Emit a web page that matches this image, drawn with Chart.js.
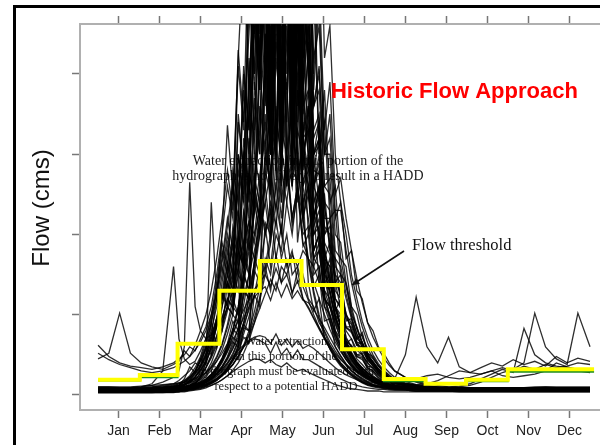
<!DOCTYPE html>
<html><head><meta charset="utf-8">
<script src="https://cdn.jsdelivr.net/npm/chart.js@4"></script>
<style>html,body{margin:0;padding:0;background:#fff;overflow:hidden}canvas{display:block}</style>
</head><body>
<canvas id="c" width="600" height="445"></canvas>
<script>
// ---- categories / ticks ----
const months = ['Jan','Feb','Mar','Apr','May','Jun','Jul','Aug','Sep','Oct','Nov','Dec'];
const monthTickDays = [15.2,45.6,76.0,106.5,136.9,167.3,197.7,228.1,258.5,288.9,319.4,349.8];
const yTickValues = [0,100,200,300,400];

// ---- flow threshold (yellow step line) and the green line under it ----
const monthStartDays = [0,31,59,90,120,151,181,212,243,273,304,334,368];
const thresholdByMonth = [19,25,64,130,167,137,57,20,14,19,32,32];
const greenByMonth = [18,22,64,130,167,137,57,17,14,17,29,29];

// ---- day-of-year grid for the yearly hydrographs ----
const dayGrid = [0,8,16,24,32,40,48,56,
 60,64,68,72,76,80,84,88, 92,96,100,104,108,112,116,120,
 124,128,132,136,140,144,148,152, 156,160,164,168,172,176,180,184,
 188,192,196,200,204,208,212,216, 220,228,236,244,252,260,268,276,
 284,292,300,308,316,324,332,340,348,356,365];

// ---- yearly hydrographs (flow) ----
const year01 = [6,5,5,5,6,6,7,8, 9,12,18,28,45,60,90,130, 180,150,260,220,380,300,560,420, 820,380,740,320,660,280,560,300, 330,220,260,150,170,105,120,70, 60,45,38,30,24,19,15,12, 11,9,8,7,7,6,6,6, 6,6,6,6,6,7,7,7,6,6,6];
const year02 = [5,5,4,4,5,5,6,7, 8,10,14,22,35,50,70,95, 140,190,150,260,300,250,480,380, 780,420,900,350,820,400,700,360, 380,260,290,170,190,110,95,60, 48,38,30,24,19,15,13,11, 10,8,7,6,6,6,5,5, 5,5,5,5,6,6,6,5,5,5,5];
const year03 = [7,7,6,6,6,7,8,9, 10,11,12,14,16,20,26,34, 46,64,92,80,190,150,370,300, 600,320,840,400,900,340,640,380, 460,300,340,200,220,140,150,92, 95,70,78,52,48,36,30,22, 16,12,9,8,8,7,7,7, 7,7,7,8,8,8,8,7,7,7,7];
const year04 = [4,4,4,4,4,4,5,5, 5,6,7,8,9,11,14,18, 24,32,45,62,88,80,170,150, 300,260,470,330,650,400,820,420, 620,380,490,300,350,230,230,180, 140,110,85,65,50,39,31,25, 19,14,11,9,8,7,7,6, 6,6,6,6,6,6,6,6,6,6,6];
const year05 = [6,6,6,5,5,6,6,7, 7,8,9,10,12,14,17,21, 26,33,42,55,72,65,125,110, 215,200,345,300,500,380,650,420, 680,400,520,330,390,250,270,220, 180,145,115,90,72,58,46,37, 30,22,17,14,12,10,9,8, 8,8,8,8,8,9,9,9,8,8,8];
const year06 = [8,8,7,7,7,8,9,10, 12,14,17,22,30,42,60,85, 125,180,150,340,280,380,520,400, 560,300,880,360,760,300,420,480, 300,280,180,165,110,98,76,58, 45,35,28,22,18,15,13,11, 10,9,8,8,7,7,7,7, 7,7,7,7,8,8,8,8,7,7,7];
const year07 = [3,3,3,3,3,3,4,4, 4,6,9,14,22,34,50,72, 95,120,110,230,180,420,330,540, 660,300,620,280,560,420,300,220, 165,125,95,73,57,45,36,30, 25,20,16,13,11,10,9,8, 7,6,5,5,5,5,4,4, 4,4,4,4,4,4,4,4,4,4,4];
const year08 = [9,9,8,8,8,9,10,11, 12,13,15,18,22,28,36,48, 64,88,120,100,225,180,390,300, 620,320,900,400,580,760,340,500, 420,300,320,235,190,150,120,95, 88,70,75,52,45,36,28,22, 15,12,10,9,9,8,8,8, 8,8,9,9,9,10,10,9,9,9,9];
const year09 = [5,5,5,5,5,5,6,6, 7,8,10,14,22,40,90,60, 110,150,190,160,280,220,490,400, 720,360,680,300,840,400,640,320, 380,260,280,180,140,108,84,65, 50,39,31,25,20,16,14,12, 10,8,7,7,6,6,6,6, 6,6,6,6,6,6,6,6,6,6,6];
const year10 = [7,7,6,6,6,6,7,8, 9,10,12,16,24,40,240,120, 90,110,150,130,290,240,510,380, 540,300,820,340,720,300,440,520, 400,260,300,185,142,110,86,67, 52,41,33,27,22,18,15,13, 11,9,8,7,7,7,6,6, 6,6,6,6,7,7,7,7,7,6,6];
const year11 = [10,10,9,9,10,12,16,22, 30,60,265,110,80,70,75,90, 120,160,130,300,250,520,400,560, 700,340,620,300,900,360,540,320, 330,220,250,160,125,97,76,60, 47,37,30,24,20,16,14,12, 11,9,8,8,7,7,7,7, 7,7,7,7,7,8,8,8,8,8,8];
const year12 = [8,8,8,9,10,14,30,160, 70,45,38,42,55,70,95,130, 170,220,180,350,280,520,400,720, 420,800,300,560,340,600,280,380, 300,180,200,145,115,90,71,56, 44,35,28,23,19,16,13,11, 10,9,8,7,7,7,7,7, 7,7,7,7,7,7,7,7,7,7,7];
const year13 = [62,48,40,36,34,32,35,40, 45,50,60,55,70,85,110,150, 200,260,220,410,330,600,450,700, 380,660,300,600,260,420,190,250, 140,105,120,70,60,48,40,33, 26,21,17,14,12,11,10,9, 9,8,8,8,8,8,8,8, 8,8,8,8,8,8,8,8,8,8,8];
const year14 = [45,52,102,52,40,35,32,38, 42,55,48,62,80,100,130,170, 220,280,230,430,340,450,600,700, 360,640,280,560,300,360,400,220, 260,160,180,125,98,77,61,48, 38,30,24,20,16,14,12,11, 10,9,9,8,8,8,8,8, 8,8,8,8,8,8,8,8,8,8,8];
const year15 = [5,5,5,5,5,5,6,6, 7,8,9,11,14,18,24,32, 42,56,74,96,122,150,180,210, 240,190,265,200,280,220,260,185, 200,135,150,92,95,60,48,38, 30,24,19,16,13,11,10,9, 8,7,6,6,6,6,6,6, 6,6,6,6,6,6,6,6,6,6,6];
const year16 = [4,4,4,4,4,5,5,5, 6,7,8,10,13,17,22,28, 36,46,58,72,88,106,125,145, 160,130,175,140,168,125,155,120, 108,95,82,70,58,47,38,30, 24,19,15,12,10,9,8,7, 6,6,5,5,5,5,5,5, 5,5,5,5,5,5,5,5,5,5,5];
const year17 = [6,6,6,6,6,6,7,7, 8,9,10,12,15,19,25,33, 43,55,68,82,96,110,122,130, 135,118,140,122,138,120,130,118, 115,106,95,84,72,60,49,39, 31,25,20,16,13,11,10,9, 8,7,7,7,7,7,7,7, 7,7,7,7,7,7,7,7,7,7,7];
const year18 = [5,5,5,5,5,5,5,6, 6,7,8,9,11,14,18,23, 29,36,44,52,60,66,70,68, 64,52,66,50,58,46,56,44, 44,40,36,32,28,24,20,17, 14,12,10,9,8,7,7,6, 6,6,5,5,5,5,5,5, 5,5,5,5,5,5,5,5,5,5,5];
const year19 = [3,3,3,3,3,3,3,3, 4,4,5,6,7,9,12,15, 19,24,29,34,38,42,45,44, 40,44,38,35,40,34,30,32, 28,25,22,19,16,13,11,9, 8,7,6,5,5,5,4,4, 4,4,4,4,4,4,4,4, 4,4,4,4,4,4,4,4,4,4,4];
const year20 = [6,6,6,6,6,6,7,7, 8,9,10,12,14,17,21,27, 35,48,66,60,130,120,250,220, 440,300,700,360,680,320,740,400, 520,330,350,240,230,160,150,120, 95,76,60,48,38,30,24,20, 20,50,122,60,40,72,35,28, 26,30,24,22,24,26,30,40,35,32,30];
const year21 = [7,7,7,7,7,8,8,8, 9,10,11,13,16,20,26,34, 45,60,82,75,152,130,270,240, 450,300,680,340,820,360,600,380, 600,360,410,260,270,180,170,135, 105,82,64,50,40,32,26,21, 17,14,12,11,10,10,11,14, 20,26,32,28,83,50,40,36,34,30,28];
const year22 = [4,4,4,4,4,4,4,5, 5,6,7,9,12,16,22,30, 40,54,72,66,134,120,245,220, 420,300,640,330,780,380,900,420, 460,300,310,210,200,140,128,102, 80,64,50,40,32,26,21,17, 14,12,10,9,9,9,10,12, 16,22,28,32,40,102,60,45,38,102,60];
const year23 = [5,5,5,5,5,5,5,6, 6,7,8,9,11,13,16,20, 26,34,46,44,84,80,155,140, 280,250,450,340,680,400,820,380, 560,360,380,260,250,170,160,126, 98,76,59,46,36,29,23,19, 16,14,13,14,18,24,30,28, 34,40,36,44,38,42,36,48,40,46,42];
const year24 = [5,5,5,5,5,6,6,6, 7,9,12,18,28,42,60,85, 110,140,120,200,160,400,300,520, 640,360,900,320,540,660,300,600, 480,300,320,235,182,140,108,84, 78,62,66,44,40,30,24,18, 12,10,9,8,8,8,7,7, 7,7,7,7,7,7,7,7,7,7,7];
const year25 = [9,9,9,9,9,10,11,13, 15,18,22,28,36,48,64,88, 120,165,140,300,240,500,380,520, 650,300,560,280,500,380,290,220, 170,130,100,78,62,50,40,33, 27,22,18,15,13,12,11,10, 10,10,9,9,9,9,9,9, 9,9,9,9,9,9,10,10,10,10,10];
const year26 = [3,3,3,3,3,3,3,4, 4,6,9,14,22,34,48,66, 90,110,100,160,130,320,260,430, 540,320,500,620,300,880,360,520, 420,280,275,190,175,120,108,84, 80,62,60,42,38,28,22,17, 11,9,7,6,6,5,5,5, 5,5,5,5,5,5,5,5,5,5,5];
const year27 = [6,6,6,6,6,6,6,7, 8,9,10,12,15,19,25,33, 45,60,80,106,140,180,225,275, 320,250,360,280,390,260,330,300, 250,170,190,120,110,88,70,56, 44,35,28,22,18,15,13,11, 10,9,8,8,8,8,8,8, 8,8,8,8,8,8,8,8,8,8,8];
const year28 = [8,8,8,8,8,9,10,12, 14,16,20,26,35,50,75,120, 200,336,250,420,560,380,540,640, 760,350,700,300,440,520,260,340, 200,230,140,120,93,72,56,44, 35,28,23,19,16,14,12,11, 10,9,8,8,8,8,8,8, 8,8,8,8,8,8,8,8,8,8,8];
const year29 = [7,7,7,7,7,7,8,8, 9,10,12,15,20,28,40,58, 80,105,130,160,190,215,200,230, 210,160,220,170,200,150,160,135, 118,100,84,70,58,47,38,31, 25,20,16,13,11,10,9,8, 8,7,7,7,7,7,7,7, 7,7,7,7,7,7,7,7,7,7,7];
const year30 = [52,44,38,34,30,28,30,34, 38,42,48,56,66,80,100,128, 165,210,265,200,410,330,600,450, 800,400,760,320,700,300,600,280, 360,220,260,150,140,110,86,68, 53,42,33,27,22,18,15,13, 11,10,9,9,9,9,9,9, 9,9,9,9,9,9,9,9,9,9,9];
const year31 = [6,6,6,6,6,7,8,9, 10,14,20,30,45,65,90,120, 160,130,210,180,300,260,460,380, 700,330,760,280,620,360,520,300, 340,220,240,150,130,95,80,62, 48,38,30,24,19,16,13,11, 10,9,8,8,7,7,7,7, 7,7,7,7,7,7,7,7,7,7,7];
const year32 = [4,4,4,4,4,4,5,5, 5,6,7,9,12,16,22,30, 42,58,80,110,150,200,270,350, 450,320,600,300,700,380,800,350, 420,280,320,200,210,130,120,85, 85,66,64,46,40,30,24,18, 12,10,9,8,7,7,6,6, 6,6,6,6,6,6,6,6,6,6,6];
const year33 = [7,7,7,7,7,7,8,8, 8,9,10,12,14,17,21,26, 32,40,52,68,90,120,160,210, 280,360,300,480,400,620,460,780, 420,560,300,380,240,260,170,160, 110,100,72,58,46,37,30,24, 19,15,12,10,9,8,8,8, 8,8,8,8,8,8,8,8,8,8,8];
const year34 = [5,5,5,5,5,5,5,6, 6,7,8,9,11,13,16,20, 25,31,38,48,60,76,96,122, 160,200,260,330,300,420,500,460, 620,520,700,420,460,300,240,200, 150,120,92,72,56,44,35,28, 22,17,13,11,10,9,8,8, 8,8,8,8,8,8,8,8,8,8,8];
const year35 = [6,6,6,6,6,6,6,7, 8,12,18,26,38,52,70,95, 120,150,130,200,160,280,240,420, 520,300,640,350,780,300,560,360, 300,250,200,170,130,100,80,62, 60,48,46,32,28,21,17,14, 10,9,8,8,8,8,8,8, 8,8,8,8,8,8,8,8,8,8,8];
const year36 = [8,8,8,8,8,8,9,10, 11,13,16,20,26,34,46,62, 84,110,100,180,160,260,230,360, 300,460,280,420,260,380,240,320, 260,180,200,130,120,80,70,52, 42,34,27,22,18,15,13,11, 10,9,8,8,8,8,8,8, 8,8,8,8,8,8,8,8,8,8,8];
const year37 = [5,5,5,5,6,6,7,9, 12,20,35,28,45,38,60,90, 130,110,200,170,320,260,500,420, 600,340,700,300,580,320,480,260, 280,180,200,120,110,80,64,50, 40,32,26,21,17,14,12,10, 9,8,7,7,7,7,6,6, 6,6,6,6,6,6,6,6,6,6,6];
const year38 = [4,4,4,4,4,4,4,4, 5,5,6,7,9,11,14,18, 24,32,44,60,82,110,150,200, 260,340,300,460,380,560,420,700, 380,500,300,340,220,230,150,140, 100,85,64,50,40,32,26,21, 17,13,11,9,8,7,7,6, 6,6,6,6,6,6,6,6,6,6,6];
const year39 = [6,6,6,6,6,6,6,6, 7,8,9,11,13,16,20,26, 34,44,58,76,100,130,165,200, 240,280,230,310,260,330,280,300, 260,230,200,170,140,110,86,66, 50,39,31,25,20,17,14,12, 10,9,8,8,8,8,8,8, 8,8,8,8,8,8,8,8,8,8,8];
const year40 = [7,7,7,7,7,8,9,11, 14,18,24,34,48,70,100,140, 190,160,280,240,400,330,560,420, 680,360,760,300,600,280,480,260, 220,170,160,110,90,70,56,45, 36,29,24,20,17,14,12,11, 10,9,9,8,8,8,8,8, 8,8,8,8,8,8,8,8,8,8,8];
const year41 = [5,5,5,5,5,5,6,6, 6,7,8,10,12,15,19,24, 30,38,50,66,90,120,165,220, 300,260,420,340,560,400,720,460, 600,420,460,300,300,200,190,140, 110,84,66,52,41,33,27,22, 18,14,11,10,9,8,8,8, 8,8,8,8,8,8,8,8,8,8,8];
const year42 = [5,5,5,5,5,5,6,6, 7,8,9,11,14,18,24,32, 44,60,82,110,150,200,260,330, 400,300,480,350,520,380,440,320, 360,260,240,180,150,110,86,66, 62,50,48,34,30,22,18,14, 10,9,8,8,7,7,7,7, 7,7,7,7,7,7,7,7,7,7,7];
const year43 = [6,6,6,6,6,6,7,8, 9,12,16,22,32,46,66,92, 125,110,170,150,230,200,300,260, 350,280,320,240,300,220,260,200, 210,150,160,110,100,75,60,48, 38,31,26,21,17,14,12,10, 9,8,8,7,7,7,7,7, 7,7,7,7,7,7,7,7,7,7,7];
const year44 = [5,5,5,5,5,5,5,5, 6,7,8,9,11,13,16,20, 26,34,44,58,76,98,125,160, 200,240,210,280,240,300,260,320, 280,300,240,250,180,170,120,100, 80,66,55,44,36,29,23,19, 15,12,10,9,8,8,7,7, 7,7,7,7,7,7,7,7,7,7,7];
const year45 = [7,7,7,7,7,7,8,8, 9,10,12,15,19,25,34,46, 62,84,110,100,170,150,260,220, 420,200,520,240,600,260,480,220, 300,200,220,140,150,100,90,64, 70,50,52,36,34,25,20,16, 13,11,9,8,8,8,8,8, 8,8,8,8,8,8,8,8,8,8,8];
const year46 = [8,8,8,8,8,8,9,10, 12,16,22,30,42,56,74,96, 120,140,125,180,160,220,190,240, 200,230,170,210,160,180,140,150, 120,110,90,80,66,55,45,37, 30,25,21,17,15,13,11,10, 9,9,8,8,8,8,8,8, 8,8,8,8,8,8,8,8,8,8,8];
const year47 = [4,4,4,4,4,4,4,4, 5,5,6,7,8,10,12,15, 19,24,31,40,52,68,90,118, 150,190,240,200,300,260,380,320, 440,360,400,300,320,220,240,170, 180,130,120,90,80,60,52,40, 30,22,16,12,10,8,7,6, 6,6,6,6,6,6,6,6,6,6,6];
const year48 = [6,6,6,6,6,6,6,7, 7,8,9,11,13,16,20,26, 32,40,48,56,62,68,72,74, 72,64,76,62,70,60,68,58, 62,58,52,46,40,34,29,25, 22,19,16,14,12,10,9,8, 7,7,7,7,7,7,7,7, 7,7,7,7,7,7,7,7,7,7,7];
const year49 = [8,8,8,8,9,10,12,14, 18,24,30,40,36,60,50,90, 80,140,110,200,170,280,240,400, 500,300,600,260,520,300,440,240, 260,170,180,120,100,76,60,48, 38,30,25,21,18,15,13,11, 10,9,9,9,9,9,9,9, 9,9,9,9,9,9,9,9,9,9,9];
const year50 = [5,5,5,5,5,5,5,5, 6,7,8,9,10,12,15,19, 24,30,38,48,62,80,104,134, 170,150,200,180,240,200,260,220, 250,210,230,170,160,120,110,80, 70,56,50,40,34,27,22,18, 14,12,10,9,8,8,7,7, 7,7,7,7,7,7,7,7,7,7,7];
const year51 = [6,6,6,6,6,6,6,7, 7,8,9,11,13,16,20,26, 34,46,62,84,112,150,200,260, 340,260,440,300,560,320,680,360, 500,320,340,220,220,150,140,100, 90,70,64,48,42,32,26,20, 16,12,10,9,8,8,8,8, 8,8,8,8,8,8,8,8,8,8,8];
const year52 = [7,7,7,7,7,7,8,9, 10,13,17,23,31,42,56,74, 96,120,108,150,136,190,170,230, 260,200,290,220,300,210,250,190, 170,140,120,100,82,66,54,44, 36,30,25,21,18,15,13,11, 10,9,9,8,8,8,8,8, 8,8,8,8,8,8,8,8,8,8,8];
const year53 = [5,5,5,5,5,5,6,6, 7,8,10,13,17,23,31,42, 56,76,100,90,150,130,240,200, 380,300,520,280,460,300,500,280, 360,240,260,170,160,110,100,72, 60,48,44,34,30,24,19,15, 12,10,9,8,8,7,7,7, 7,7,7,7,7,7,7,7,7,7,7];
const year54 = [4,4,4,4,4,4,4,4, 5,6,7,8,10,12,15,19, 24,30,38,48,60,74,90,108, 126,144,130,160,150,175,160,180, 170,160,140,130,110,92,76,62, 50,41,34,28,23,19,16,13, 11,9,8,7,7,6,6,6, 6,6,6,6,6,6,6,6,6,6,6];
const year55 = [10,10,10,10,11,12,13,14, 15,16,18,20,24,28,34,42, 52,64,78,92,106,120,132,140, 150,136,158,140,150,128,142,120, 110,96,84,72,62,52,44,38, 33,29,26,23,21,19,18,17, 17,18,20,24,26,22,20,22, 26,30,34,30,36,32,38,34,36,40,38];
const year56 = [6,6,6,6,6,7,8,10, 12,16,22,30,42,58,80,110, 150,200,170,280,240,360,320,480, 640,320,560,280,700,300,520,260, 300,200,210,140,130,96,80,62, 50,40,33,27,22,18,15,13, 11,10,9,9,9,9,9,9, 9,9,9,9,9,9,9,9,9,9,9];

const years = [year01,year02,year03,year04,year05,year06,year07,year08,year09,year10,
  year11,year12,year13,year14,year15,year16,year17,year18,year19,year20,
  year21,year22,year23,year24,year25,year26,year27,year28,year29,year30,
  year31,year32,year33,year34,year35,year36,year37,year38,year39,year40,
  year41,year42,year43,year44,year45,year46,year47,year48,year49,year50,
  year51,year52,year53,year54,year55,year56];

// ---- annotation texts ----
const upperNote = ['Water extraction in this portion of the','hydrograph is not likely to result in a HADD'];
const lowerNote = ['Water extraction','in this portion of the','hydrograph must be evaluated with','respect to a potential HADD'];

function stepPoints(vals){
  const pts=[];
  vals.forEach((v,i)=>{ pts.push({x:monthStartDays[i], y:v}); pts.push({x:monthStartDays[i+1], y:v}); });
  return pts;
}

const datasets = [
  {data: stepPoints(thresholdByMonth), borderColor:'#ffff00', borderWidth:4, order:0,
   borderJoinStyle:'miter', borderCapStyle:'butt'},
  {data: stepPoints(greenByMonth), borderColor:'#1f8f1f', borderWidth:2, order:1,
   borderJoinStyle:'miter', borderCapStyle:'butt'}
];
years.forEach(vals=>{
  datasets.push({
    data: vals.map((v,i)=>({x:dayGrid[i], y:v})),
    borderColor:'rgba(0,0,0,0.82)', borderWidth:1.3, order:2
  });
});

const SERIF = '"Liberation Serif","Times New Roman",serif';
const SANS = '"Liberation Sans",Arial,sans-serif';

const decor = {
  id:'decor',
  beforeDraw(chart){
    const c=chart.ctx; c.save(); c.fillStyle='#fff'; c.fillRect(0,0,chart.width,chart.height); c.restore();
  },
  beforeDatasetsDraw(chart){
    const c=chart.ctx, x=chart.scales.x, y=chart.scales.y;
    c.save();
    c.fillStyle='#222'; c.textAlign='center'; c.textBaseline='middle';
    c.font='14px '+SERIF;
    const ux=x.getPixelForValue(148.3);
    c.fillText(upperNote[0], ux, y.getPixelForValue(291.6));
    c.fillText(upperNote[1], ux, y.getPixelForValue(272.9));
    c.font='12.5px '+SERIF;
    const lx=x.getPixelForValue(139.4);
    [66,47.4,28.7,10].forEach((v,i)=>c.fillText(lowerNote[i], lx, y.getPixelForValue(v)));
    c.restore();
  },
  afterDatasetsDraw(chart){
    const c=chart.ctx, x=chart.scales.x, y=chart.scales.y;
    c.save();
    c.fillStyle='#ff0000'; c.textAlign='center'; c.textBaseline='middle';
    c.font='bold 22px '+SANS;
    c.fillText('Historic Flow Approach', x.getPixelForValue(264.4), y.getPixelForValue(377.6));
    c.fillStyle='#111'; c.textAlign='left';
    c.font='16.5px '+SERIF;
    c.fillText('Flow threshold', x.getPixelForValue(232.9), y.getPixelForValue(185.7));
    const x0=x.getPixelForValue(227), y0=y.getPixelForValue(179.4);
    const x1=x.getPixelForValue(188.4), y1=y.getPixelForValue(137.1);
    c.strokeStyle='#111'; c.lineWidth=1.6;
    c.beginPath(); c.moveTo(x0,y0); c.lineTo(x1,y1); c.stroke();
    const a=Math.atan2(y1-y0,x1-x0), L=8, W=0.45;
    c.beginPath(); c.moveTo(x1,y1);
    c.lineTo(x1-L*Math.cos(a-W), y1-L*Math.sin(a-W));
    c.lineTo(x1-L*Math.cos(a+W), y1-L*Math.sin(a+W));
    c.closePath(); c.fill();
    c.restore();
  },
  afterDraw(chart){
    const c=chart.ctx;
    c.save();
    c.fillStyle='#000';
    c.fillRect(13,5,chart.width-13,3);
    c.fillRect(13,5,3,chart.height-5);
    c.translate(42,208); c.rotate(-Math.PI/2);
    c.fillStyle='#111'; c.textAlign='center'; c.textBaseline='middle';
    c.font='24px '+SANS;
    c.fillText('Flow (cms)',0,0);
    c.restore();
  }
};

const axisGrid = {drawOnChartArea:false, drawTicks:true, tickLength:8, tickColor:'#777', tickWidth:1.5};
const axisBorder = {color:'#b0b0b0', width:2};

new Chart(document.getElementById('c'), {
  type:'line',
  data:{datasets},
  options:{
    responsive:false, animation:false, devicePixelRatio:1, events:[],
    layout:{padding:0},
    elements:{point:{radius:0}, line:{tension:0}},
    plugins:{legend:{display:false}, tooltip:{enabled:false}},
    scales:{
      x:{type:'linear', position:'bottom', min:-13.4, max:372.4,
        afterBuildTicks:s=>{s.ticks=monthTickDays.map(v=>({value:v}));},
        afterFit:s=>{s.height=35;},
        ticks:{autoSkip:false, maxRotation:0, padding:5, color:'#222',
          font:{family:SANS, size:14}, callback:(v,i)=>months[i]},
        grid:axisGrid, border:axisBorder},
      xTop:{type:'linear', position:'top', min:-13.4, max:372.4,
        afterBuildTicks:s=>{s.ticks=monthTickDays.map(v=>({value:v}));},
        afterFit:s=>{s.height=24;},
        ticks:{display:false}, grid:axisGrid, border:axisBorder},
      y:{type:'linear', position:'left', min:-18.7, max:462.3,
        afterBuildTicks:s=>{s.ticks=yTickValues.map(v=>({value:v}));},
        afterFit:s=>{s.width=80;},
        ticks:{display:false}, grid:axisGrid, border:axisBorder}
    }
  },
  plugins:[decor]
});
</script>
</body></html>
